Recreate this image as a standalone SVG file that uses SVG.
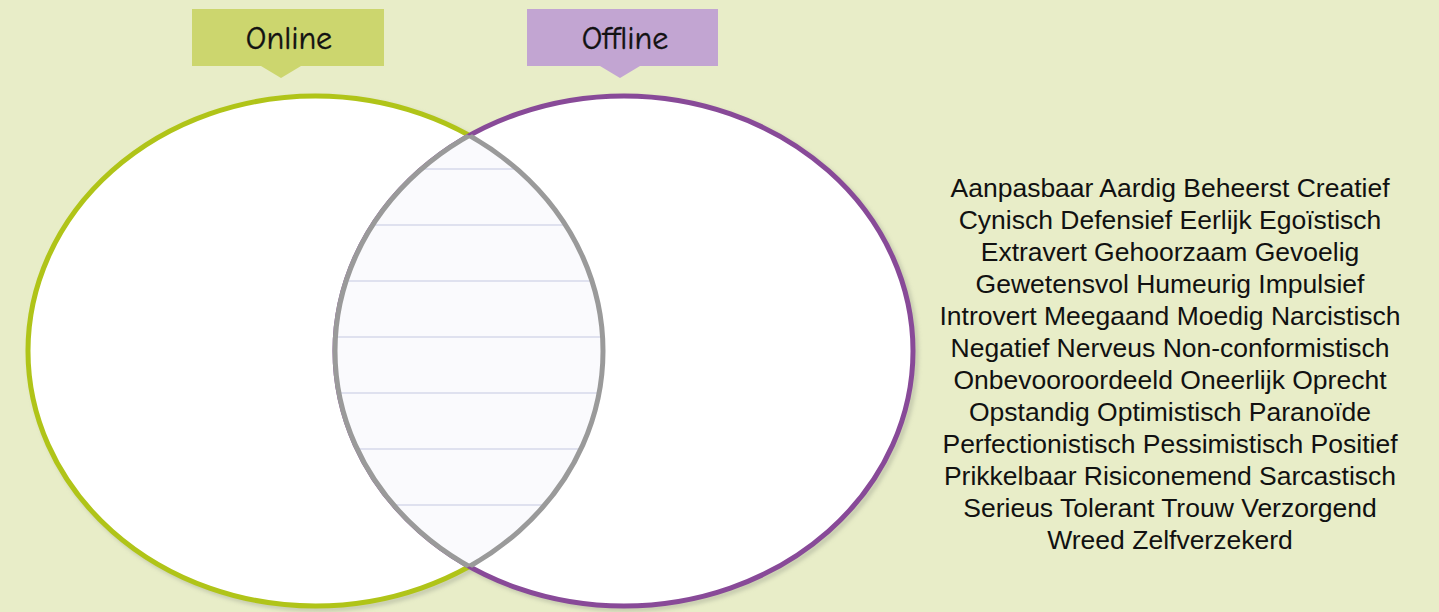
<svg xmlns="http://www.w3.org/2000/svg" width="1439" height="612" viewBox="0 0 1439 612">
<style>
.lbl{font-family:"Comic Sans MS","Comic Neue","Open Sans","DejaVu Sans",sans-serif;font-size:32px;fill:#111;text-anchor:middle;stroke:#111;stroke-width:0.4}
.words{font-family:"Liberation Sans",Arial,sans-serif;font-size:26.5px;fill:#111;text-anchor:middle}
.paper{stroke:#d6d9ea;stroke-width:1.5}
</style>
<defs>
<clipPath id="cl"><ellipse cx="315.5" cy="351" rx="287.5" ry="255"/></clipPath>
<clipPath id="cr"><ellipse cx="624" cy="351" rx="289" ry="255"/></clipPath>
<filter id="sh" x="-10%" y="-10%" width="120%" height="120%"><feGaussianBlur stdDeviation="2"/></filter>
</defs>
<rect width="1439" height="612" fill="#e8edc8"/>
<g id="shadows" fill="none" stroke="#a8ad98" stroke-width="5" opacity="0.6" filter="url(#sh)">
<ellipse cx="318.5" cy="354" rx="287.5" ry="255"/>
<ellipse cx="627" cy="354" rx="289" ry="255"/>
</g>
<g id="online-circle">
<ellipse cx="315.5" cy="351" rx="287.5" ry="255" fill="#fff" stroke="#b0c418" stroke-width="5"/>
</g>
<g id="offline-circle">
<ellipse cx="624" cy="351" rx="289" ry="255" fill="#fff" stroke="#884a98" stroke-width="5"/>
</g>
<g id="overlap">
<g clip-path="url(#cl)"><g clip-path="url(#cr)">
<rect x="330" y="90" width="280" height="520" fill="#fafafd"/>
<g class="paper">
<line x1="330" y1="169" x2="610" y2="169"/>
<line x1="330" y1="225" x2="610" y2="225"/>
<line x1="330" y1="281" x2="610" y2="281"/>
<line x1="330" y1="337" x2="610" y2="337"/>
<line x1="330" y1="393" x2="610" y2="393"/>
<line x1="330" y1="449" x2="610" y2="449"/>
<line x1="330" y1="505" x2="610" y2="505"/>
</g>
</g></g>
<ellipse cx="624" cy="351" rx="289" ry="255" fill="none" stroke="#9a9a9a" stroke-width="5" clip-path="url(#cl)"/>
<ellipse cx="315.5" cy="351" rx="287.5" ry="255" fill="none" stroke="#9a9a9a" stroke-width="5" clip-path="url(#cr)"/>
</g>
<g id="label-online">
<rect x="192" y="9" width="192" height="57" fill="#ccd66e"/>
<polygon points="261,66 301,66 281,78" fill="#ccd66e"/>
<text class="lbl" x="289" y="49">Online</text>
</g>
<g id="label-offline">
<rect x="527" y="9" width="191" height="57" fill="#c2a5d2"/>
<polygon points="600,66 640,66 620,78" fill="#c2a5d2"/>
<text class="lbl" x="625" y="49">Offline</text>
</g>
<g id="word-list" class="words">
<text x="1170" y="197">Aanpasbaar Aardig Beheerst Creatief</text>
<text x="1170" y="229">Cynisch Defensief Eerlijk Egoïstisch</text>
<text x="1170" y="261">Extravert Gehoorzaam Gevoelig</text>
<text x="1170" y="293">Gewetensvol Humeurig Impulsief</text>
<text x="1170" y="325">Introvert Meegaand Moedig Narcistisch</text>
<text x="1170" y="357">Negatief Nerveus Non-conformistisch</text>
<text x="1170" y="389">Onbevooroordeeld Oneerlijk Oprecht</text>
<text x="1170" y="421">Opstandig Optimistisch Paranoïde</text>
<text x="1170" y="453">Perfectionistisch Pessimistisch Positief</text>
<text x="1170" y="485">Prikkelbaar Risiconemend Sarcastisch</text>
<text x="1170" y="517">Serieus Tolerant Trouw Verzorgend</text>
<text x="1170" y="549">Wreed Zelfverzekerd</text>
</g>
</svg>
